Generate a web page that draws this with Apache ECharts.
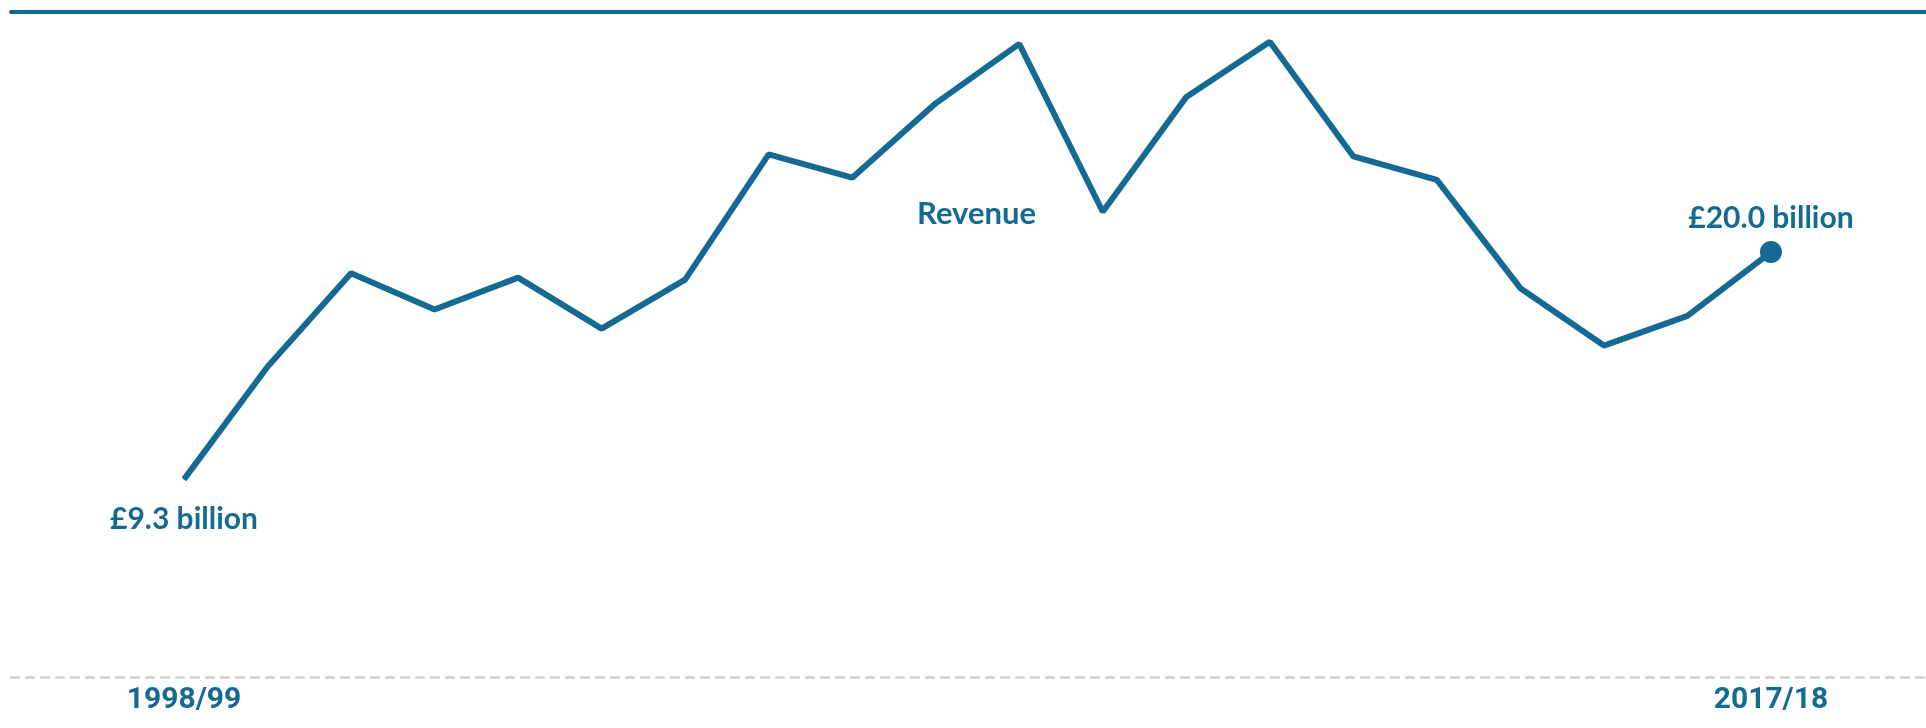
<!DOCTYPE html>
<html>
<head>
<meta charset="utf-8">
<script src="https://cdn.jsdelivr.net/npm/echarts@6/dist/echarts.min.js"></script>
<style>
html,body{margin:0;padding:0;background:#fff;}
#chart{width:1926px;height:728px;}
</style>
</head>
<body>
<div id="chart"></div>
<script>
const categories = ['1998/99','1999/00','2000/01','2001/02','2002/03','2003/04','2004/05','2005/06','2006/07','2007/08',
  '2008/09','2009/10','2010/11','2011/12','2012/13','2013/14','2014/15','2015/16','2016/17','2017/18'];
const revenue = [9.3, 14.6, 19.0, 17.3, 18.8, 16.4, 18.7, 24.6, 23.5, 27.0,
  29.8, 21.9, 27.3, 29.9, 24.5, 23.4, 18.3, 15.6, 17.0, 20.0];
const tickLabels = ['1998/99', '2017/18'];
const seriesName = 'Revenue';
const startLabel = '£9.3 billion';
const endLabel = '£20.0 billion';

const BLUE = '#156a93';
const last = revenue.length - 1;

const data = revenue.map((v, i) => {
  const item = { value: [i, v] };
  if (i === 0) {
    item.symbolSize = 1;
    item.label = { show: true, position: 'bottom', distance: 24, formatter: startLabel };
  } else if (i === last) {
    item.symbolSize = 22;
    item.label = { show: true, position: 'top', distance: 8, formatter: endLabel };
  }
  return item;
});

const tickIdx = tickLabels.map(t => categories.indexOf(t));

const chart = echarts.init(document.getElementById('chart'));
const xMin = -2.071, xMax = 20.856;
chart.setOption({
  animation: false,
  grid: { left: 11, right: 0, top: 12, bottom: 51 },
  xAxis: [{
    type: 'value', min: xMin, max: xMax, position: 'bottom',
    axisLine: { show: true, onZero: false, lineStyle: { color: '#cfcfcf', width: 2.5, type: [8, 7] } },
    axisTick: { show: false },
    splitLine: { show: false },
    axisLabel: {
      customValues: tickIdx,
      formatter: v => categories[Math.round(v)],
      color: BLUE, fontFamily: 'Roboto', fontWeight: 'bold', fontSize: 30, margin: 8
    }
  }, {
    type: 'value', min: xMin, max: xMax, position: 'top',
    axisLine: { show: true, onZero: false, lineStyle: { color: BLUE, width: 4 } },
    axisTick: { show: false }, axisLabel: { show: false }, splitLine: { show: false }
  }],
  yAxis: { type: 'value', min: 0, max: 31.3, show: false, splitLine: { show: false } },
  graphic: [{
    type: 'text', left: 917, top: 198,
    style: { text: seriesName, fill: BLUE, font: 'bold 31px Lato' }
  }],
  series: [{
    name: seriesName, type: 'line', data: data,
    symbol: 'circle', symbolSize: 0, showSymbol: true,
    lineStyle: { color: BLUE, width: 6 },
    itemStyle: { color: BLUE },
    label: { color: BLUE, fontFamily: 'Lato', fontWeight: 'bold', fontSize: 30 },
    emphasis: { disabled: true }
  }]
});
</script>
</body>
</html>
